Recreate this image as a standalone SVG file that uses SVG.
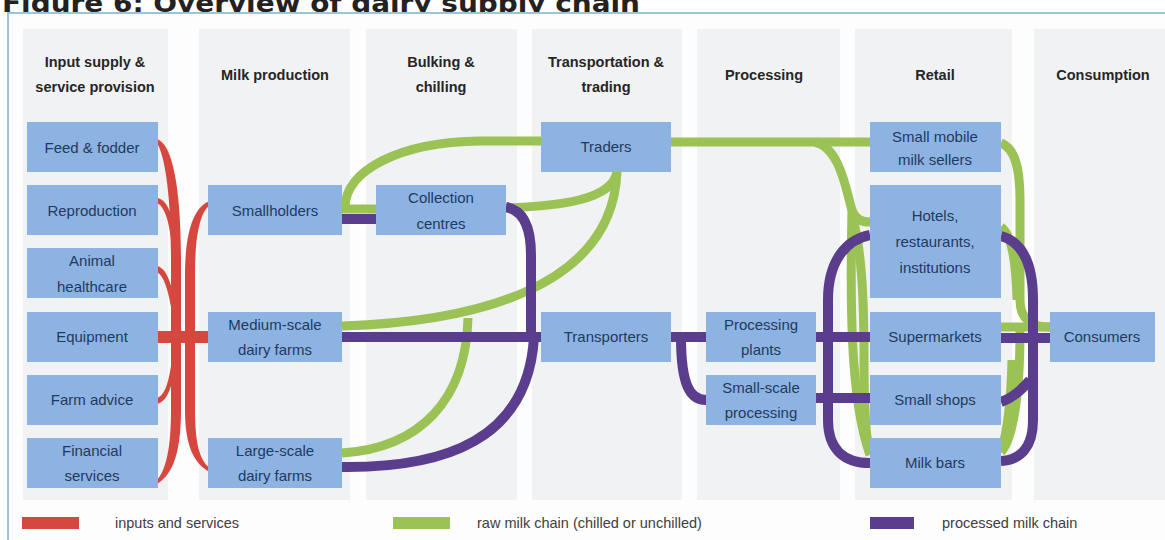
<svg xmlns="http://www.w3.org/2000/svg" width="1165" height="540" viewBox="0 0 1165 540">
<defs>
<style>
.col{fill:#f1f2f3}
.hd{font-family:"Liberation Sans",Arial,sans-serif;font-weight:bold;font-size:14.5px;fill:#262626;text-anchor:middle}
.box{fill:#8db3e2}
.bt{font-family:"Liberation Sans",Arial,sans-serif;font-size:15px;fill:#1f3a5f;text-anchor:middle}
.lg{font-family:"Liberation Sans",Arial,sans-serif;font-size:14.5px;fill:#404040}
.g{fill:none;stroke:#9bc254;stroke-width:9}
.p{fill:none;stroke:#5a3d8c;stroke-width:10}
.r{fill:#d5473f}
</style>
</defs>
<rect x="0" y="0" width="1165" height="540" fill="#ffffff"/>
<text x="2" y="12" font-family="'DejaVu Sans',Verdana,sans-serif" font-weight="bold" font-size="24" fill="#222222" textLength="638" lengthAdjust="spacingAndGlyphs">Figure 6: Overview of dairy supply chain</text>
<rect x="8" y="13" width="1170" height="540" fill="#fdfdfd" stroke="#9cc3da" stroke-width="2"/>
<g id="columns">
<rect class="col" x="23" y="29" width="145" height="471"/>
<rect class="col" x="199" y="29" width="151" height="471"/>
<rect class="col" x="366" y="29" width="151" height="471"/>
<rect class="col" x="532" y="29" width="150" height="471"/>
<rect class="col" x="697" y="29" width="143" height="471"/>
<rect class="col" x="855" y="29" width="157" height="471"/>
<rect class="col" x="1034" y="29" width="131" height="471"/>
</g>
<g id="headers">
<text class="hd" x="95" y="67">Input supply &amp;</text>
<text class="hd" x="95" y="92">service provision</text>
<text class="hd" x="275" y="80">Milk production</text>
<text class="hd" x="441" y="67">Bulking &amp;</text>
<text class="hd" x="441" y="92">chilling</text>
<text class="hd" x="606" y="67">Transportation &amp;</text>
<text class="hd" x="606" y="92">trading</text>
<text class="hd" x="764" y="80">Processing</text>
<text class="hd" x="935" y="80">Retail</text>
<text class="hd" x="1103" y="80">Consumption</text>
</g>
<g id="connectors">
<g id="red">
<path class="r" d="M157,139 C173,144 181,190 181,260 L181,410 C181,450 174,474 157,484 L157,480 C166,470 171,448 171,410 L171,260 C171,200 166,158 157,143 Z"/>
<path class="r" d="M210,201 C194,206 185,232 185,275 L185,410 C185,446 194,464 210,472 L210,468 C200,461 195,444 195,410 L195,275 C195,236 200,212 210,205 Z"/>
<path class="r" d="M157,198 C166,199 173,212 176,240 L171,240 C169,220 164,206 157,203 Z"/>
<path class="r" d="M157,266 C166,268 172,282 175,307 L171,307 C168,290 164,276 157,272 Z"/>
<path class="r" d="M157,404 C166,402 172,390 175,366 L171,366 C168,385 164,396 157,398 Z"/>
<rect class="r" x="158" y="331" width="50" height="12"/>
</g>
<g id="green">
<path class="g" d="M342,209 L376,209"/>
<path class="g" d="M345,208 C345,170 400,142 480,141 L541,141"/>
<path class="g" d="M506,208 C560,206 612,200 617,172"/>
<path class="g" d="M342,326 C470,322 612,290 617,172"/>
<path class="g" d="M342,453 C420,448 466,400 468,318"/>
<path class="g" d="M671,142 L870,142"/>
<path class="g" d="M815,142 C840,148 846,190 852,210 C856,220 862,222 870,222"/>
<path class="g" d="M852,210 C850,300 850,400 870,455"/>
<path class="g" d="M852,215 C862,250 864,300 864,360 C864,410 866,440 870,452"/>
<path class="g" d="M1001,143 C1014,148 1020,165 1020,200 L1020,300 C1020,318 1030,327 1050,327"/>
<path class="g" d="M1001,327 L1050,327"/>
<path class="g" d="M1001,227 C1012,235 1016,260 1017,300"/>
<path class="g" d="M1001,452 C1012,440 1020,400 1020,330"/>
<path class="g" d="M1001,452 C1008,430 1011,400 1012,360"/>
</g>
<g id="purple">
<path class="p" d="M342,219 L376,219"/>
<path class="p" d="M506,207 C522,210 531,225 531,255 L531,337"/>
<path class="p" d="M342,337 L541,337"/>
<path class="p" d="M342,467 C445,468 528,440 534,337"/>
<path class="p" d="M671,337 L706,337"/>
<path class="p" d="M681,337 C681,385 690,400 706,400"/>
<path class="p" d="M816,337 L870,337"/>
<path class="p" d="M816,398 L870,398"/>
<path class="p" d="M870,235 C845,240 828,262 828,300 L828,420 C828,450 845,463 870,463"/>
<path class="p" d="M1001,236 C1022,242 1033,262 1033,300 L1033,420 C1033,448 1020,460 1001,461"/>
<path class="p" d="M1001,338 L1050,338"/>
<path class="p" d="M1001,402 C1012,398 1020,392 1030,380"/>
</g>
</g>
<g id="feed"><rect class="box" x="27" y="122" width="131" height="50"/><text class="bt" x="92" y="153">Feed &amp; fodder</text></g>
<g id="reproduction"><rect class="box" x="27" y="185" width="131" height="50"/><text class="bt" x="92" y="216">Reproduction</text></g>
<g id="animal"><rect class="box" x="27" y="248" width="131" height="50"/><text class="bt" x="92" y="266">Animal</text><text class="bt" x="92" y="292">healthcare</text></g>
<g id="equipment"><rect class="box" x="27" y="312" width="131" height="50"/><text class="bt" x="92" y="342">Equipment</text></g>
<g id="farmadvice"><rect class="box" x="27" y="375" width="131" height="50"/><text class="bt" x="92" y="405">Farm advice</text></g>
<g id="financial"><rect class="box" x="27" y="438" width="131" height="50"/><text class="bt" x="92" y="456">Financial</text><text class="bt" x="92" y="481">services</text></g>
<g id="smallholders"><rect class="box" x="208" y="185" width="134" height="50"/><text class="bt" x="275" y="216">Smallholders</text></g>
<g id="medium"><rect class="box" x="208" y="312" width="134" height="50"/><text class="bt" x="275" y="330">Medium-scale</text><text class="bt" x="275" y="355">dairy farms</text></g>
<g id="large"><rect class="box" x="208" y="438" width="134" height="50"/><text class="bt" x="275" y="456">Large-scale</text><text class="bt" x="275" y="481">dairy farms</text></g>
<g id="collection"><rect class="box" x="376" y="185" width="130" height="50"/><text class="bt" x="441" y="203">Collection</text><text class="bt" x="441" y="229">centres</text></g>
<g id="traders"><rect class="box" x="541" y="122" width="130" height="50"/><text class="bt" x="606" y="152">Traders</text></g>
<g id="transporters"><rect class="box" x="541" y="312" width="130" height="50"/><text class="bt" x="606" y="342">Transporters</text></g>
<g id="plants"><rect class="box" x="706" y="312" width="110" height="50"/><text class="bt" x="761" y="330">Processing</text><text class="bt" x="761" y="355">plants</text></g>
<g id="smallproc"><rect class="box" x="706" y="375" width="110" height="50"/><text class="bt" x="761" y="393">Small-scale</text><text class="bt" x="761" y="418">processing</text></g>
<g id="mobile"><rect class="box" x="870" y="122" width="131" height="50"/><text class="bt" x="935" y="142">Small mobile</text><text class="bt" x="935" y="165">milk sellers</text></g>
<g id="hotels"><rect class="box" x="870" y="185" width="131" height="113"/><text class="bt" x="935" y="221">Hotels,</text><text class="bt" x="935" y="247">restaurants,</text><text class="bt" x="935" y="273">institutions</text></g>
<g id="supermarkets"><rect class="box" x="870" y="312" width="131" height="50"/><text class="bt" x="935" y="342">Supermarkets</text></g>
<g id="shops"><rect class="box" x="870" y="375" width="131" height="50"/><text class="bt" x="935" y="405">Small shops</text></g>
<g id="milkbars"><rect class="box" x="870" y="438" width="131" height="50"/><text class="bt" x="935" y="468">Milk bars</text></g>
<g id="consumers"><rect class="box" x="1050" y="312" width="105" height="50"/><text class="bt" x="1102" y="342">Consumers</text></g>
<g id="legend">
<rect x="22" y="517" width="57" height="12" fill="#d5473f"/>
<text class="lg" x="115" y="528">inputs and services</text>
<rect x="393" y="517" width="57" height="12" fill="#9bc254"/>
<text class="lg" x="477" y="528">raw milk chain (chilled or unchilled)</text>
<rect x="870" y="517" width="44" height="12" fill="#5a3d8c"/>
<text class="lg" x="942" y="528">processed milk chain</text>
</g>
</svg>
